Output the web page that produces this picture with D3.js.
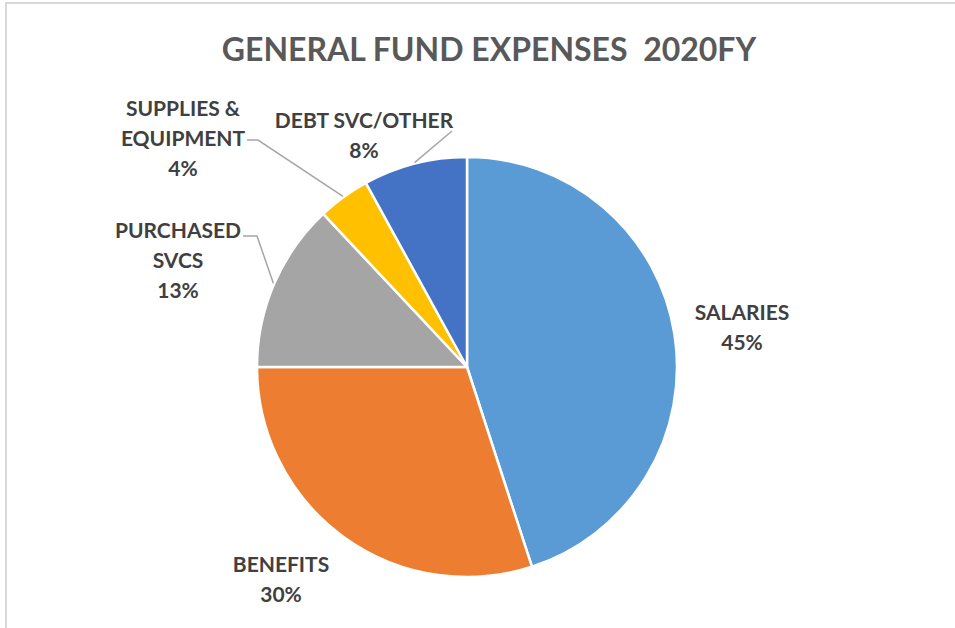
<!DOCTYPE html>
<html>
<head>
<meta charset="utf-8">
<script src="https://cdn.jsdelivr.net/npm/d3@7"></script>
<style>
  html, body { margin: 0; padding: 0; background: #fff; }
  svg { display: block; }
  text { font-family: Lato, "Open Sans", sans-serif; font-weight: 700; }
</style>
</head>
<body>
<svg id="chart" width="955" height="628"></svg>
<script>
// General fund expense shares, FY2020
const categories = ["SALARIES", "BENEFITS", "PURCHASED SVCS", "SUPPLIES & EQUIPMENT", "DEBT SVC/OTHER"];
const shares = [45, 30, 13, 4, 8];
const colors = ["#5B9BD5", "#ED7D31", "#A5A5A5", "#FFC000", "#4472C4"];
const labelLines = [["SALARIES"], ["BENEFITS"], ["PURCHASED", "SVCS"], ["SUPPLIES &", "EQUIPMENT"], ["DEBT SVC/OTHER"]];
const title = "GENERAL FUND EXPENSES\u00A0\u00A02020FY";

// Label placement (centre of the text block) and leader-line elbows
const labelPos = [
  { x: 742, y: 312, leader: null },
  { x: 281, y: 564, leader: null },
  { x: 178, y: 230, leader: { from: [243, 236], elbow: [257, 236] } },
  { x: 183, y: 108, leader: { from: [247, 140], elbow: [258, 140] } },
  { x: 364, y: 120, leader: { from: [452, 131], elbow: null } }
];

const W = 955, H = 628;
const cx = 467, cy = 367, R = 210;
const lineStep = 30;

const svg = d3.select("#chart");

// chart frame
svg.append("line").attr("x1", 5).attr("x2", W).attr("y1", 3).attr("y2", 3)
  .attr("stroke", "#d9d9d9").attr("stroke-width", 2);
svg.append("line").attr("x1", 6).attr("x2", 6).attr("y1", 3).attr("y2", H)
  .attr("stroke", "#d9d9d9").attr("stroke-width", 2);

svg.append("text")
  .attr("x", 489).attr("y", 61)
  .attr("text-anchor", "middle")
  .attr("fill", "#595959")
  .attr("font-size", 32)
  .text(title);

const data = categories.map((c, i) => ({ name: c, value: shares[i], color: colors[i], lines: labelLines[i], pos: labelPos[i] }));

const pie = d3.pie().value(d => d.value).sort(null);
const arcs = pie(data);
const arc = d3.arc().innerRadius(0).outerRadius(R);

const g = svg.append("g").attr("transform", `translate(${cx},${cy})`);

g.selectAll("path.slice")
  .data(arcs)
  .join("path")
  .attr("class", "slice")
  .attr("d", arc)
  .attr("fill", d => d.data.color)
  .attr("stroke", "#fff")
  .attr("stroke-width", 2.5)
  .attr("stroke-linejoin", "round");

// leader lines run from the label to the outer edge at the slice mid-angle
arcs.forEach(a => {
  const L = a.data.pos.leader;
  if (!L) return;
  const mid = (a.startAngle + a.endAngle) / 2;
  const ex = cx + Math.sin(mid) * (R + 1);
  const ey = cy - Math.cos(mid) * (R + 1);
  const pts = [L.from];
  if (L.elbow) pts.push(L.elbow);
  pts.push([ex, ey]);
  svg.append("path")
    .attr("d", d3.line()(pts))
    .attr("fill", "none")
    .attr("stroke", "#a6a6a6")
    .attr("stroke-width", 1.5);
});

// data labels: category name plus percentage
arcs.forEach(a => {
  const d = a.data;
  const lines = d.lines.concat([d.value + "%"]);
  const top = d.pos.y - 0;
  const t = svg.append("text")
    .attr("text-anchor", "middle")
    .attr("fill", "#404040")
    .attr("font-size", 21);
  lines.forEach((s, i) => {
    t.append("tspan")
      .attr("x", d.pos.x)
      .attr("y", top + i * lineStep)
      .attr("dy", "0.36em")
      .text(s);
  });
});
</script>
</body>
</html>
